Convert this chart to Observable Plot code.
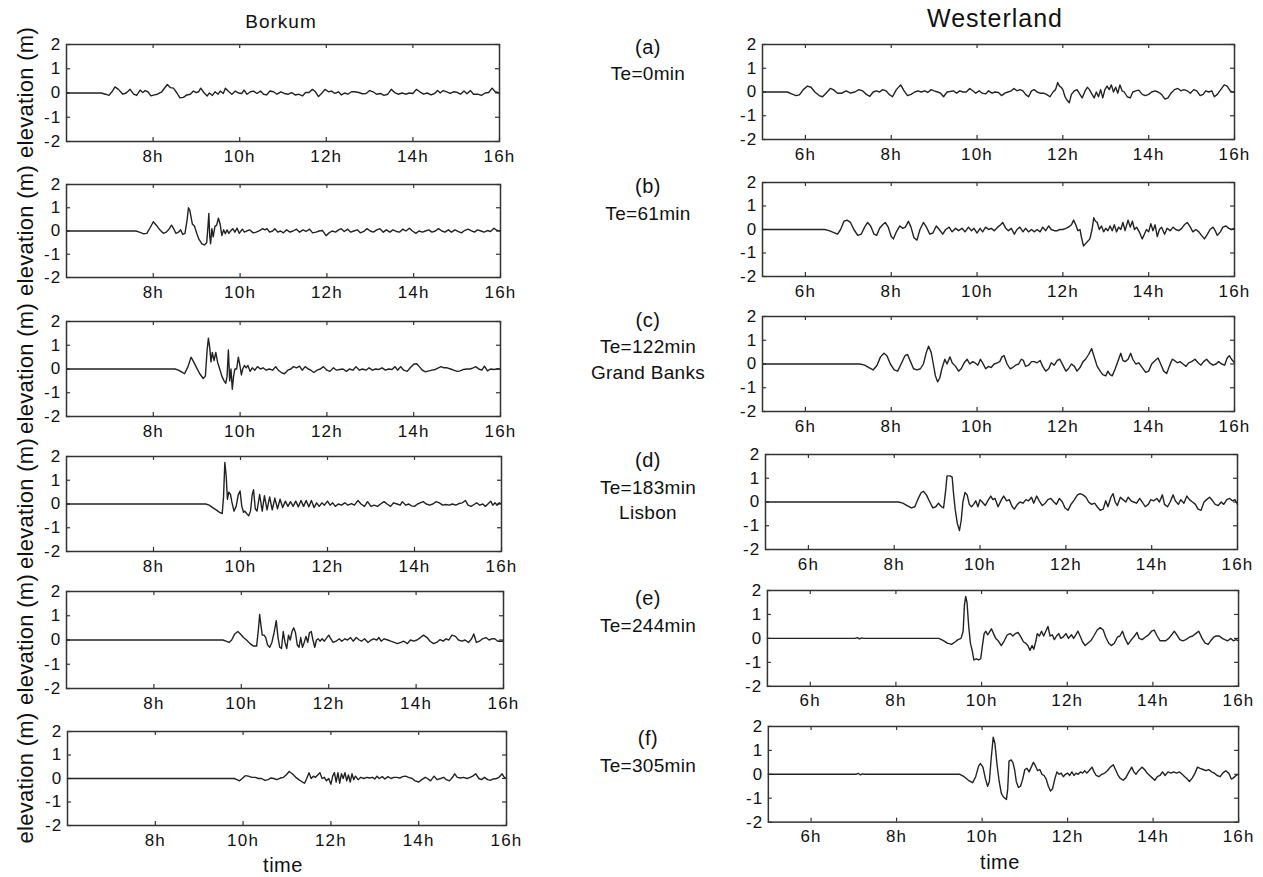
<!DOCTYPE html>
<html><head><meta charset="utf-8">
<script src="https://cdn.jsdelivr.net/npm/d3@7"></script>
<script src="https://cdn.jsdelivr.net/npm/@observablehq/plot@0.6"></script>
<style>
html,body{margin:0;padding:0;background:#fff;}
#fig{position:relative;width:1263px;height:877px;overflow:hidden;font-family:"Liberation Sans",Arial,sans-serif;}
.panel{position:absolute;}
.panel svg text{letter-spacing:1.2px;}
#overlay{position:absolute;left:0;top:0;}
</style></head><body><div id="fig"></div><script>
// ---------- data ----------
const yTicks = [-2, -1, 0, 1, 2];
const borkumTicks = [8, 10, 12, 14, 16];
const westerTicks = [6, 8, 10, 12, 14, 16];
const borkumDomain = [6, 16];
const westerDomain = [5, 16];
const stationNames = ["Borkum", "Westerland"];
const caseLetters = ["(a)", "(b)", "(c)", "(d)", "(e)", "(f)"];
const caseTe = ["Te=0min", "Te=61min", "Te=122min", "Te=183min", "Te=244min", "Te=305min"];
const caseEvent = ["", "", "Grand Banks", "Lisbon", "", ""];
const yLabel = "elevation (m)";
const xLabel = "time";

const borkumA = [[6,0],[6.8,0],[6.9,-0.05],[6.98,-0.1],[7.05,0.05],[7.12,0.25],[7.2,0.15],[7.3,-0.05],[7.38,0],[7.47,0.15],[7.55,-0.05],[7.62,-0.1],[7.7,0.12],[7.76,0.02],[7.82,0.1],[7.88,0.05],[7.95,-0.12],[8.03,-0.08],[8.1,-0.05],[8.2,0.05],[8.33,0.35],[8.4,0.22],[8.47,0.2],[8.55,0],[8.62,-0.2],[8.7,-0.18],[8.78,-0.08],[8.86,-0.05],[8.93,0.08],[9.0,0.02],[9.05,0.05],[9.1,0.2],[9.18,0.0],[9.25,-0.12],[9.3,0.0],[9.37,-0.1],[9.43,0.05],[9.5,-0.05],[9.55,0.08],[9.62,-0.02],[9.67,0.2],[9.75,0.05],[9.82,-0.05],[9.9,0.08],[9.97,0.0],[10.05,-0.02],[10.1,0.12],[10.17,-0.05],[10.25,0.05],[10.32,0.08],[10.4,-0.02],[10.48,0.08],[10.55,-0.05],[10.62,-0.08],[10.7,0.08],[10.78,0.05],[10.86,-0.05],[10.95,0.05],[11.03,-0.02],[11.12,-0.05],[11.2,0.02],[11.28,-0.08],[11.36,-0.05],[11.45,-0.12],[11.52,0.02],[11.6,0.02],[11.68,0.15],[11.75,0.05],[11.82,-0.15],[11.9,0.0],[11.97,0.15],[12.05,0.05],[12.12,0.08],[12.2,-0.02],[12.28,0.05],[12.35,-0.08],[12.42,0.0],[12.5,-0.05],[12.58,0.05],[12.66,0.05],[12.75,0.02],[12.83,-0.03],[12.92,-0.02],[13.0,0.1],[13.08,0.05],[13.16,-0.05],[13.25,-0.02],[13.33,-0.1],[13.42,-0.05],[13.5,0.15],[13.58,0.02],[13.66,-0.05],[13.75,0.0],[13.83,-0.05],[13.92,0.0],[14.0,-0.02],[14.08,0.15],[14.16,0.05],[14.25,-0.05],[14.33,0.0],[14.42,-0.08],[14.5,-0.02],[14.57,0.1],[14.63,0.0],[14.7,0.1],[14.78,0.05],[14.86,-0.02],[14.94,0.05],[15.02,0.03],[15.1,-0.05],[15.18,0.08],[15.25,-0.03],[15.33,0.1],[15.4,-0.05],[15.5,-0.05],[15.58,-0.1],[15.67,0.0],[15.75,0.02],[15.83,0.2],[15.9,0.05],[16,0]];

const borkumB = [[6,0],[7.6,0],[7.68,-0.05],[7.78,-0.12],[7.85,-0.1],[7.93,0.15],[8.0,0.4],[8.07,0.25],[8.15,0.05],[8.23,-0.1],[8.3,-0.05],[8.37,0.1],[8.42,0.25],[8.47,0.1],[8.52,-0.1],[8.58,-0.05],[8.63,0.05],[8.68,-0.15],[8.73,-0.1],[8.78,0.5],[8.81,1.0],[8.84,0.9],[8.87,0.6],[8.9,0.3],[8.95,0.2],[9.0,-0.1],[9.05,-0.35],[9.12,-0.55],[9.18,-0.6],[9.23,-0.5],[9.26,0.2],[9.28,0.75],[9.3,-0.2],[9.32,-0.55],[9.35,0.1],[9.38,-0.25],[9.42,0.2],[9.46,0.25],[9.5,0.55],[9.54,0.3],[9.58,-0.2],[9.62,0.05],[9.66,-0.12],[9.7,0.05],[9.74,-0.1],[9.78,0.0],[9.83,0.1],[9.88,-0.05],[9.93,0.12],[9.98,-0.1],[10.05,0.08],[10.1,-0.05],[10.15,0.0],[10.22,0.05],[10.3,-0.08],[10.37,-0.05],[10.45,0.02],[10.52,0.1],[10.57,0.05],[10.62,0.1],[10.68,-0.05],[10.75,0.0],[10.8,0.1],[10.87,-0.05],[10.93,0.0],[11.0,-0.08],[11.07,0.05],[11.15,-0.05],[11.22,0.0],[11.3,0.08],[11.37,-0.05],[11.45,0.05],[11.52,-0.02],[11.6,0.08],[11.67,-0.08],[11.75,-0.05],[11.82,0.0],[11.9,0.02],[11.98,-0.2],[12.05,-0.08],[12.12,0.0],[12.2,-0.05],[12.27,0.05],[12.33,0.1],[12.4,-0.02],[12.48,0.08],[12.55,-0.05],[12.62,0.0],[12.7,0.05],[12.77,-0.08],[12.85,-0.02],[12.92,0.1],[13.0,0.0],[13.07,-0.05],[13.15,0.05],[13.22,0.1],[13.3,-0.05],[13.37,0.05],[13.45,-0.05],[13.52,0.05],[13.6,-0.02],[13.67,-0.05],[13.75,0.08],[13.82,0.0],[13.9,0.12],[13.97,0.0],[14.05,-0.1],[14.12,0.0],[14.2,-0.05],[14.27,0.0],[14.35,0.05],[14.42,-0.05],[14.5,0.0],[14.57,0.1],[14.65,0.0],[14.72,-0.05],[14.8,0.05],[14.87,-0.05],[14.95,0.05],[15.02,-0.02],[15.1,-0.08],[15.17,0.02],[15.25,0.08],[15.32,0.02],[15.4,-0.05],[15.47,0.05],[15.55,0.0],[15.62,-0.05],[15.7,0.02],[15.77,-0.02],[15.85,0.12],[15.92,0.02],[16,0]];

const borkumC = [[6,0],[8.5,0],[8.58,-0.05],[8.65,-0.12],[8.72,-0.2],[8.8,0.1],[8.87,0.5],[8.93,0.3],[9.0,0.05],[9.07,-0.2],[9.15,-0.4],[9.2,-0.3],[9.24,0.8],[9.27,1.3],[9.3,0.9],[9.33,0.3],[9.36,0.7],[9.4,0.35],[9.44,0.7],[9.48,0.3],[9.53,0.0],[9.58,-0.3],[9.63,-0.5],[9.67,-0.6],[9.7,-0.3],[9.73,0.8],[9.76,-0.5],[9.79,0.0],[9.82,-0.85],[9.85,-0.3],[9.88,0.0],[9.92,0.0],[9.96,0.5],[10.0,0.1],[10.03,-0.25],[10.06,0.0],[10.1,0.15],[10.14,0.05],[10.18,0.15],[10.23,-0.1],[10.28,0.05],[10.34,-0.05],[10.4,0.1],[10.47,0.0],[10.53,0.05],[10.6,-0.05],[10.67,0.0],[10.75,-0.05],[10.82,0.1],[10.88,-0.05],[10.95,-0.15],[11.02,-0.2],[11.1,-0.05],[11.17,0.0],[11.23,0.1],[11.3,0.05],[11.37,0.12],[11.43,-0.05],[11.5,0.1],[11.57,0.0],[11.63,-0.05],[11.7,-0.15],[11.77,-0.05],[11.85,0.0],[11.92,0.1],[12.0,-0.05],[12.07,-0.1],[12.15,0.05],[12.22,-0.05],[12.3,-0.02],[12.37,0.0],[12.45,-0.1],[12.52,0.0],[12.6,-0.05],[12.67,0.1],[12.75,-0.05],[12.82,0.0],[12.9,-0.05],[12.97,0.05],[13.05,-0.05],[13.12,0.0],[13.2,-0.02],[13.27,0.05],[13.35,-0.05],[13.42,0.0],[13.5,-0.02],[13.57,0.1],[13.63,-0.05],[13.7,0.1],[13.77,-0.05],[13.85,-0.1],[13.92,0.05],[14.0,0.2],[14.07,0.22],[14.13,0.1],[14.2,-0.05],[14.27,-0.12],[14.35,-0.08],[14.42,-0.05],[14.5,-0.02],[14.57,0.05],[14.63,0.1],[14.7,0.05],[14.77,0.05],[14.85,0.0],[14.92,-0.05],[15.0,-0.1],[15.07,-0.08],[15.15,-0.02],[15.22,0.0],[15.3,0.0],[15.37,0.05],[15.43,0.1],[15.5,0.0],[15.57,-0.05],[15.63,0.12],[15.7,-0.08],[15.77,0.0],[15.85,-0.02],[15.92,0.0],[16,0]];

const borkumD = [[6,0],[9.2,0],[9.28,-0.05],[9.36,-0.15],[9.44,-0.25],[9.52,-0.35],[9.58,-0.4],[9.61,0.3],[9.64,1.75],[9.67,1.2],[9.7,0.2],[9.73,0.5],[9.77,0.4],[9.8,0.1],[9.85,-0.3],[9.9,-0.1],[9.95,0.4],[9.99,0.55],[10.03,-0.1],[10.07,-0.35],[10.1,-0.3],[10.14,-0.4],[10.19,-0.5],[10.23,-0.3],[10.27,0.4],[10.3,0.6],[10.34,-0.2],[10.38,-0.3],[10.44,0.4],[10.5,-0.3],[10.55,0.35],[10.61,-0.25],[10.67,0.3],[10.73,-0.25],[10.79,0.25],[10.85,-0.2],[10.91,0.2],[10.97,-0.15],[11.03,0.12],[11.09,-0.1],[11.15,0.1],[11.21,-0.1],[11.27,0.12],[11.33,-0.12],[11.39,0.15],[11.45,-0.1],[11.51,0.15],[11.57,-0.12],[11.63,0.15],[11.69,-0.15],[11.75,0.05],[11.81,-0.1],[11.87,0.05],[11.93,-0.05],[12.0,0.12],[12.06,-0.05],[12.12,0.05],[12.18,-0.1],[12.25,0.0],[12.32,-0.05],[12.4,0.05],[12.47,-0.05],[12.55,0.02],[12.62,-0.05],[12.7,0.15],[12.77,0.0],[12.85,-0.1],[12.92,0.1],[13.0,-0.1],[13.07,-0.05],[13.15,-0.1],[13.22,0.0],[13.3,0.1],[13.37,0.0],[13.45,-0.1],[13.52,0.05],[13.6,0.0],[13.67,-0.05],[13.72,0.1],[13.8,-0.05],[13.87,0.0],[13.93,-0.08],[14.0,-0.1],[14.07,0.0],[14.13,0.05],[14.2,0.1],[14.27,0.0],[14.35,-0.05],[14.42,0.0],[14.5,0.1],[14.57,0.05],[14.65,-0.05],[14.72,-0.02],[14.8,-0.05],[14.87,0.0],[14.95,-0.05],[15.02,0.02],[15.1,0.05],[15.17,0.15],[15.23,-0.05],[15.3,-0.1],[15.37,-0.02],[15.43,0.05],[15.5,-0.05],[15.57,0.0],[15.63,-0.1],[15.7,0.02],[15.75,0.12],[15.8,-0.05],[15.85,0.05],[15.9,-0.05],[15.95,0.05],[16,0]];

const borkumE = [[6,0],[9.58,0],[9.65,-0.05],[9.72,-0.1],[9.78,0.0],[9.85,0.25],[9.92,0.35],[9.98,0.25],[10.05,0.1],[10.12,0.0],[10.2,-0.15],[10.28,-0.25],[10.35,-0.25],[10.39,0.4],[10.42,1.05],[10.45,0.6],[10.48,0.2],[10.52,0.2],[10.56,0.1],[10.6,-0.2],[10.65,-0.3],[10.7,-0.1],[10.75,0.3],[10.8,0.8],[10.84,0.1],[10.88,-0.3],[10.92,-0.35],[10.96,0.35],[11.0,-0.1],[11.04,-0.35],[11.08,0.2],[11.12,0.0],[11.16,0.35],[11.2,0.5],[11.24,0.3],[11.28,-0.2],[11.32,-0.3],[11.36,0.1],[11.4,-0.3],[11.44,-0.1],[11.48,0.15],[11.52,-0.1],[11.56,0.3],[11.6,0.35],[11.64,0.0],[11.68,-0.3],[11.72,0.0],[11.76,0.05],[11.8,-0.05],[11.85,0.05],[11.9,-0.05],[11.95,0.08],[12.0,0.2],[12.05,0.05],[12.1,-0.1],[12.17,-0.05],[12.24,0.05],[12.3,-0.05],[12.37,0.05],[12.43,0.0],[12.5,0.1],[12.56,-0.05],[12.63,0.1],[12.7,0.0],[12.75,-0.05],[12.82,0.05],[12.9,-0.1],[12.97,0.0],[13.03,0.05],[13.1,0.0],[13.15,0.1],[13.2,-0.05],[13.27,0.05],[13.35,0.0],[13.42,-0.05],[13.5,-0.1],[13.57,-0.15],[13.65,-0.1],[13.72,-0.05],[13.8,-0.15],[13.87,0.0],[13.95,-0.05],[14.02,0.0],[14.1,0.1],[14.17,0.2],[14.25,0.1],[14.32,-0.05],[14.4,-0.15],[14.47,-0.1],[14.55,0.02],[14.62,-0.05],[14.68,0.05],[14.75,0.0],[14.82,0.2],[14.9,0.15],[14.97,0.0],[15.05,-0.05],[15.12,0.0],[15.2,-0.1],[15.27,0.05],[15.32,0.25],[15.38,-0.1],[15.45,-0.05],[15.52,0.05],[15.6,0.1],[15.67,0.0],[15.73,0.05],[15.8,0.05],[15.87,-0.05],[15.93,-0.05],[16,-0.05]];

const borkumF = [[6,0],[9.8,0],[9.86,-0.05],[9.92,-0.1],[9.98,0.0],[10.05,0.12],[10.12,0.1],[10.2,0.05],[10.28,0.05],[10.35,0.0],[10.42,0.0],[10.5,-0.08],[10.57,-0.05],[10.63,0.02],[10.7,0.0],[10.77,-0.05],[10.85,0.02],[10.92,0.05],[10.98,0.15],[11.05,0.3],[11.12,0.2],[11.2,0.05],[11.27,-0.05],[11.35,-0.15],[11.4,-0.2],[11.45,0.0],[11.5,0.25],[11.55,0.0],[11.6,0.1],[11.65,0.05],[11.7,0.15],[11.75,0.25],[11.8,0.0],[11.85,0.05],[11.9,-0.1],[11.95,0.0],[12.0,-0.25],[12.04,0.1],[12.08,0.25],[12.12,-0.15],[12.16,0.25],[12.2,-0.2],[12.24,0.2],[12.28,0.0],[12.32,0.25],[12.36,-0.1],[12.4,0.15],[12.44,-0.15],[12.48,0.2],[12.52,-0.05],[12.56,0.1],[12.62,-0.05],[12.68,0.05],[12.75,0.0],[12.82,0.05],[12.88,0.02],[12.95,0.05],[13.0,-0.02],[13.05,0.1],[13.1,0.0],[13.17,0.08],[13.23,-0.02],[13.3,0.08],[13.37,0.0],[13.43,0.05],[13.5,0.05],[13.57,0.02],[13.63,0.08],[13.7,0.1],[13.77,0.05],[13.85,0.0],[13.92,-0.1],[14.0,-0.15],[14.07,-0.05],[14.15,0.05],[14.2,0.0],[14.27,-0.1],[14.35,0.1],[14.42,-0.05],[14.5,0.0],[14.57,0.05],[14.63,-0.05],[14.7,-0.1],[14.77,0.05],[14.82,0.2],[14.88,0.05],[14.95,0.02],[15.02,0.05],[15.1,0.0],[15.17,0.05],[15.23,0.1],[15.3,0.2],[15.37,0.0],[15.43,-0.05],[15.5,0.05],[15.57,-0.05],[15.63,-0.08],[15.7,-0.02],[15.77,0.0],[15.83,0.05],[15.9,0.2],[15.95,0.05],[16,0.0]];

const westerA = [[5,0],[5.58,0],[5.68,-0.08],[5.78,-0.15],[5.86,-0.12],[5.95,0.1],[6.05,0.25],[6.13,0.2],[6.22,0.0],[6.32,-0.15],[6.4,-0.2],[6.48,-0.05],[6.58,0.15],[6.65,0.1],[6.75,-0.05],[6.85,-0.05],[6.95,0.05],[7.05,-0.05],[7.15,0.0],[7.25,0.1],[7.33,0.05],[7.42,-0.1],[7.5,-0.18],[7.58,0.0],[7.65,0.05],[7.73,0.0],[7.8,0.1],[7.88,0.05],[7.95,-0.1],[8.03,-0.2],[8.12,0.1],[8.22,0.3],[8.3,0.05],[8.38,-0.15],[8.46,-0.1],[8.55,0.0],[8.62,0.05],[8.7,0.0],[8.78,0.05],[8.85,-0.02],[8.93,0.1],[9.0,0.05],[9.08,0.0],[9.15,-0.05],[9.22,-0.2],[9.3,0.0],[9.37,0.02],[9.45,0.05],[9.52,-0.05],[9.6,0.05],[9.67,0.0],[9.75,0.0],[9.83,0.15],[9.9,0.05],[9.97,-0.05],[10.05,0.05],[10.12,-0.05],[10.2,-0.08],[10.27,0.05],[10.35,-0.05],[10.42,0.0],[10.5,-0.02],[10.57,-0.15],[10.65,-0.05],[10.72,0.0],[10.8,0.05],[10.86,0.15],[10.93,0.05],[11.0,0.1],[11.07,0.05],[11.13,-0.1],[11.2,-0.2],[11.27,0.05],[11.33,0.1],[11.4,0.0],[11.47,-0.05],[11.55,-0.05],[11.62,-0.1],[11.7,-0.2],[11.77,0.0],[11.83,0.1],[11.88,0.4],[11.92,0.25],[11.96,0.2],[12.0,0.1],[12.05,-0.2],[12.1,-0.35],[12.15,-0.45],[12.2,-0.1],[12.27,0.05],[12.33,0.1],[12.38,-0.05],[12.45,-0.25],[12.52,0.05],[12.57,0.2],[12.62,0.1],[12.68,-0.1],[12.73,-0.25],[12.78,0.0],[12.83,-0.2],[12.88,0.1],[12.93,-0.25],[12.98,0.1],[13.03,0.25],[13.08,0.1],[13.13,0.3],[13.18,0.0],[13.23,0.2],[13.28,-0.05],[13.33,0.3],[13.38,0.05],[13.43,0.0],[13.5,-0.2],[13.57,-0.25],[13.63,0.0],[13.7,0.05],[13.77,0.08],[13.85,-0.1],[13.92,-0.15],[14.0,-0.1],[14.07,0.0],[14.15,0.05],[14.22,0.0],[14.3,-0.1],[14.38,-0.3],[14.45,-0.25],[14.52,-0.05],[14.6,0.1],[14.68,0.15],[14.75,0.05],[14.82,0.1],[14.9,0.05],[14.97,-0.05],[15.05,0.1],[15.12,0.05],[15.2,-0.15],[15.27,-0.1],[15.33,0.05],[15.4,0.0],[15.47,0.05],[15.53,-0.2],[15.6,-0.1],[15.68,0.1],[15.76,0.3],[15.83,0.25],[15.9,0.05],[15.95,0.0],[16,0.0]];

const westerB = [[5,0],[6.45,0],[6.55,-0.05],[6.65,-0.12],[6.75,-0.2],[6.82,0.0],[6.9,0.35],[6.97,0.4],[7.05,0.3],[7.13,0.0],[7.22,-0.25],[7.3,-0.2],[7.38,0.1],[7.45,0.3],[7.52,0.15],[7.6,-0.2],[7.66,-0.25],[7.73,0.05],[7.8,0.2],[7.86,0.3],[7.93,0.1],[8.0,-0.3],[8.05,-0.4],[8.12,-0.1],[8.2,0.15],[8.27,0.05],[8.33,0.1],[8.4,0.35],[8.46,0.1],[8.53,-0.35],[8.6,-0.45],[8.67,0.0],[8.75,0.3],[8.82,0.1],[8.9,-0.2],[8.97,-0.15],[9.05,0.15],[9.12,0.0],[9.2,-0.2],[9.27,0.0],[9.35,0.1],[9.42,-0.1],[9.5,0.05],[9.57,-0.05],[9.65,0.05],[9.72,-0.1],[9.8,0.1],[9.87,-0.05],[9.93,0.05],[10.0,-0.15],[10.07,0.05],[10.13,-0.1],[10.2,0.1],[10.27,0.0],[10.33,0.05],[10.4,-0.05],[10.48,0.1],[10.55,0.2],[10.6,0.3],[10.67,0.05],[10.73,-0.05],[10.8,0.05],[10.87,-0.2],[10.93,0.0],[11.0,0.1],[11.07,-0.1],[11.13,0.05],[11.2,-0.1],[11.27,0.0],[11.33,-0.1],[11.4,0.0],[11.47,-0.1],[11.53,0.1],[11.6,-0.05],[11.67,0.15],[11.73,0.0],[11.8,-0.05],[11.87,-0.05],[11.93,0.0],[12.0,0.0],[12.07,0.05],[12.13,0.1],[12.2,0.2],[12.25,0.4],[12.3,0.2],[12.35,-0.05],[12.4,0.0],[12.43,-0.3],[12.48,-0.7],[12.53,-0.6],[12.58,-0.5],[12.63,-0.4],[12.68,0.0],[12.72,0.5],[12.76,0.35],[12.8,0.3],[12.85,0.0],[12.9,0.15],[12.95,-0.1],[13.0,0.05],[13.05,-0.05],[13.1,0.15],[13.15,-0.05],[13.2,0.2],[13.25,-0.1],[13.3,0.1],[13.35,0.0],[13.4,0.3],[13.45,-0.05],[13.52,0.4],[13.57,0.1],[13.62,0.35],[13.67,0.0],[13.72,0.1],[13.78,-0.1],[13.85,-0.4],[13.9,-0.2],[13.95,0.0],[14.0,-0.1],[14.05,0.25],[14.1,-0.05],[14.15,0.2],[14.2,-0.3],[14.25,0.0],[14.3,0.1],[14.37,-0.2],[14.43,0.05],[14.5,-0.05],[14.57,0.1],[14.63,0.0],[14.7,-0.05],[14.77,0.05],[14.83,0.2],[14.9,0.3],[14.97,0.1],[15.03,-0.1],[15.1,0.0],[15.17,-0.1],[15.23,-0.25],[15.3,-0.4],[15.37,-0.2],[15.43,0.0],[15.5,0.1],[15.55,-0.05],[15.6,-0.25],[15.67,-0.1],[15.73,0.1],[15.8,0.15],[15.87,0.05],[15.93,0.0],[16,0.05]];

const westerC = [[5,0],[7.27,0],[7.38,-0.05],[7.48,-0.15],[7.58,-0.25],[7.67,-0.05],[7.75,0.3],[7.83,0.45],[7.9,0.35],[7.98,0.0],[8.07,-0.25],[8.15,-0.3],[8.23,0.0],[8.32,0.35],[8.38,0.4],[8.45,0.1],[8.52,-0.2],[8.6,-0.25],[8.68,-0.2],[8.75,0.0],[8.82,0.5],[8.87,0.75],[8.93,0.5],[8.98,0.0],[9.03,-0.5],[9.08,-0.75],[9.13,-0.6],[9.18,-0.2],[9.25,0.2],[9.3,0.0],[9.37,0.3],[9.42,0.05],[9.5,-0.1],[9.57,-0.3],[9.63,-0.2],[9.7,0.05],[9.77,0.2],[9.83,0.0],[9.9,0.1],[9.95,0.05],[10.02,-0.05],[10.08,0.2],[10.13,0.05],[10.2,-0.2],[10.27,-0.1],[10.33,-0.15],[10.4,0.0],[10.47,0.05],[10.53,0.1],[10.58,0.3],[10.63,0.35],[10.7,0.0],[10.77,-0.2],[10.83,-0.15],[10.9,-0.05],[10.97,0.0],[11.03,0.2],[11.08,0.15],[11.13,-0.1],[11.2,-0.05],[11.27,0.1],[11.33,0.1],[11.4,0.05],[11.47,0.15],[11.53,-0.1],[11.6,-0.3],[11.67,-0.2],[11.73,0.05],[11.8,-0.05],[11.87,0.15],[11.93,0.2],[12.0,-0.05],[12.07,-0.3],[12.13,-0.2],[12.2,0.0],[12.27,-0.1],[12.33,-0.3],[12.4,-0.15],[12.47,0.1],[12.53,0.2],[12.6,0.4],[12.67,0.65],[12.73,0.3],[12.8,-0.1],[12.87,-0.3],[12.93,-0.45],[13.0,-0.5],[13.05,-0.3],[13.1,-0.45],[13.15,-0.5],[13.22,-0.2],[13.3,0.2],[13.35,0.45],[13.4,0.15],[13.45,0.1],[13.52,0.2],[13.58,0.45],[13.63,0.2],[13.7,0.0],[13.77,0.05],[13.85,-0.15],[13.93,-0.35],[14.0,-0.3],[14.07,0.0],[14.15,0.15],[14.22,0.25],[14.28,0.0],[14.35,-0.3],[14.42,-0.4],[14.48,-0.1],[14.55,0.2],[14.6,0.15],[14.67,0.05],[14.73,0.1],[14.8,0.0],[14.87,-0.1],[14.93,0.05],[15.0,0.1],[15.08,0.2],[15.15,0.05],[15.22,-0.05],[15.28,0.1],[15.35,0.2],[15.42,0.05],[15.5,-0.05],[15.57,0.0],[15.63,0.1],[15.7,0.0],[15.77,-0.05],[15.83,0.25],[15.88,0.35],[15.93,0.2],[16,0.05]];

const westerD = [[5,0],[8.1,0],[8.2,-0.05],[8.3,-0.15],[8.4,-0.25],[8.48,-0.2],[8.56,0.15],[8.63,0.4],[8.68,0.45],[8.75,0.3],[8.83,0.0],[8.9,-0.25],[8.97,-0.2],[9.03,-0.05],[9.1,-0.2],[9.15,-0.25],[9.2,0.5],[9.23,1.1],[9.3,1.1],[9.35,1.05],[9.38,0.4],[9.42,-0.3],[9.47,-0.9],[9.52,-1.2],[9.56,-0.8],[9.6,0.0],[9.65,0.4],[9.7,0.3],[9.75,-0.1],[9.8,-0.2],[9.85,-0.1],[9.9,0.05],[9.95,-0.2],[10.0,0.1],[10.05,0.0],[10.12,-0.15],[10.18,0.05],[10.25,0.25],[10.3,0.1],[10.35,0.15],[10.42,-0.2],[10.5,0.1],[10.55,0.25],[10.62,0.05],[10.68,0.1],[10.75,-0.2],[10.8,-0.3],[10.87,-0.1],[10.93,0.0],[11.0,-0.05],[11.07,0.1],[11.13,0.05],[11.2,0.2],[11.25,-0.05],[11.32,0.25],[11.38,0.05],[11.45,-0.15],[11.52,-0.05],[11.58,0.1],[11.65,0.15],[11.72,0.0],[11.78,-0.1],[11.85,0.15],[11.92,0.0],[11.98,-0.25],[12.05,-0.35],[12.12,-0.1],[12.2,0.1],[12.27,0.3],[12.33,0.35],[12.4,0.3],[12.47,0.2],[12.53,0.0],[12.6,-0.1],[12.67,-0.05],[12.73,-0.2],[12.8,-0.35],[12.87,-0.3],[12.93,0.05],[12.98,-0.2],[13.05,0.2],[13.1,0.35],[13.15,0.0],[13.2,-0.15],[13.27,0.2],[13.33,0.1],[13.4,0.0],[13.45,0.2],[13.52,0.05],[13.58,0.0],[13.65,-0.05],[13.72,0.15],[13.78,0.0],[13.85,-0.2],[13.92,-0.1],[13.98,0.1],[14.05,0.05],[14.12,0.15],[14.18,0.0],[14.25,0.3],[14.3,-0.1],[14.37,-0.2],[14.43,0.0],[14.5,0.3],[14.55,0.05],[14.62,-0.1],[14.68,0.1],[14.75,-0.05],[14.82,0.25],[14.88,0.1],[14.95,0.0],[15.02,-0.1],[15.08,-0.3],[15.15,-0.35],[15.22,0.0],[15.28,0.1],[15.35,0.2],[15.42,0.05],[15.48,-0.1],[15.55,-0.15],[15.62,0.0],[15.68,-0.1],[15.75,0.1],[15.82,0.15],[15.88,0.05],[15.94,0.1],[16,-0.1]];

const westerE = [[5,0],[7.05,0],[7.1,0.03],[7.15,-0.02],[7.2,0.02],[7.25,0],[9.0,0],[9.1,-0.08],[9.2,-0.2],[9.3,-0.25],[9.38,-0.15],[9.45,-0.05],[9.52,0.0],[9.57,0.3],[9.6,1.4],[9.63,1.75],[9.66,1.5],[9.7,0.5],[9.74,-0.2],[9.78,-0.5],[9.82,-0.9],[9.88,-0.85],[9.93,-0.9],[9.98,-0.85],[10.02,-0.3],[10.06,0.2],[10.1,0.3],[10.14,0.15],[10.18,0.25],[10.23,0.4],[10.28,0.2],[10.33,0.0],[10.39,-0.1],[10.46,-0.3],[10.53,-0.1],[10.6,0.15],[10.67,0.2],[10.73,0.1],[10.79,0.2],[10.85,0.25],[10.92,0.05],[10.98,-0.15],[11.03,-0.2],[11.08,-0.3],[11.13,-0.5],[11.18,-0.3],[11.22,-0.45],[11.27,-0.1],[11.3,0.2],[11.35,0.1],[11.4,0.3],[11.45,0.1],[11.5,0.3],[11.55,0.5],[11.6,0.1],[11.65,0.15],[11.7,-0.05],[11.75,0.1],[11.8,0.2],[11.85,0.0],[11.9,0.05],[11.97,0.2],[12.03,0.0],[12.1,0.15],[12.15,0.0],[12.2,0.15],[12.25,0.3],[12.3,0.1],[12.36,-0.15],[12.42,-0.3],[12.48,-0.2],[12.55,-0.1],[12.62,0.1],[12.7,0.35],[12.77,0.45],[12.84,0.35],[12.9,0.05],[12.97,-0.2],[13.03,-0.3],[13.1,-0.2],[13.17,0.05],[13.23,0.1],[13.29,0.3],[13.35,0.0],[13.42,-0.25],[13.5,-0.05],[13.57,0.1],[13.63,0.25],[13.68,0.0],[13.75,-0.05],[13.82,0.05],[13.9,0.15],[13.97,0.3],[14.03,0.35],[14.1,0.1],[14.17,-0.1],[14.24,-0.1],[14.3,-0.1],[14.37,0.0],[14.44,0.15],[14.5,0.3],[14.56,0.15],[14.63,-0.05],[14.7,-0.1],[14.77,-0.05],[14.85,0.05],[14.93,0.1],[15.0,0.2],[15.07,0.3],[15.15,0.0],[15.22,-0.2],[15.29,-0.25],[15.35,-0.1],[15.42,0.05],[15.48,0.1],[15.55,0.1],[15.62,0.0],[15.68,-0.05],[15.75,-0.1],[15.82,0.0],[15.88,-0.1],[15.94,-0.05],[16,-0.1]];

const westerF = [[5,0],[7.05,0],[7.1,0.04],[7.15,-0.02],[7.2,0.02],[7.25,0],[9.48,0],[9.58,-0.1],[9.68,-0.25],[9.78,-0.35],[9.85,-0.1],[9.92,0.35],[9.96,0.45],[10.02,0.3],[10.08,-0.2],[10.13,-0.5],[10.17,-0.3],[10.21,0.6],[10.26,1.55],[10.3,1.3],[10.35,0.4],[10.4,-0.3],[10.45,-0.8],[10.5,-0.95],[10.57,-1.05],[10.6,-0.6],[10.63,0.55],[10.68,0.6],[10.72,0.5],[10.76,0.2],[10.8,-0.3],[10.85,-0.55],[10.9,-0.5],[10.95,-0.2],[11.0,0.2],[11.05,0.25],[11.1,0.1],[11.15,0.3],[11.2,0.5],[11.25,0.35],[11.3,0.15],[11.35,0.2],[11.4,0.0],[11.45,-0.05],[11.5,-0.2],[11.55,-0.5],[11.6,-0.7],[11.65,-0.6],[11.7,-0.2],[11.75,0.1],[11.8,0.0],[11.85,0.05],[11.9,-0.1],[11.95,0.0],[12.0,0.05],[12.05,-0.05],[12.1,0.1],[12.15,-0.05],[12.2,0.05],[12.25,0.0],[12.3,0.1],[12.35,0.05],[12.4,0.15],[12.45,0.05],[12.5,0.15],[12.57,0.3],[12.62,0.1],[12.67,-0.05],[12.73,-0.1],[12.8,0.0],[12.87,0.05],[12.93,0.15],[13.0,0.3],[13.07,0.4],[13.12,0.2],[13.17,0.0],[13.22,-0.15],[13.3,-0.25],[13.36,-0.15],[13.42,0.05],[13.5,0.3],[13.55,0.1],[13.6,0.0],[13.66,0.15],[13.74,0.3],[13.8,0.2],[13.86,0.05],[13.92,-0.05],[13.98,-0.15],[14.04,-0.25],[14.1,-0.1],[14.16,-0.05],[14.22,0.1],[14.28,-0.05],[14.35,0.1],[14.42,0.05],[14.48,0.1],[14.55,0.05],[14.62,0.1],[14.68,0.0],[14.74,-0.1],[14.8,-0.2],[14.85,-0.3],[14.92,-0.15],[14.98,0.05],[15.04,0.3],[15.1,0.25],[15.17,0.2],[15.24,0.15],[15.3,0.2],[15.37,0.1],[15.43,0.05],[15.5,-0.05],[15.57,-0.1],[15.63,0.05],[15.7,0.15],[15.77,0.05],[15.83,-0.2],[15.88,-0.15],[15.94,-0.05],[16,0.0]];

const borkumSeries = [borkumA, borkumB, borkumC, borkumD, borkumE, borkumF];
const westerSeries = [westerA, westerB, westerC, westerD, westerE, westerF];

// ---------- layout (frame boxes: left, right, top, bottom in px) ----------
const leftBoxes = [[66,499,44,141],[66,500,184,277],[66,500,321,416],[66,501,456,551],[66,503,591,688],[67,506,731,825]];
const rightBoxes = [[762,1234,44,139],[762,1234,182,276],[762,1234,316,411],[765,1237,454,549],[767,1239,590,686],[768,1240,726,822]];

const fig = document.getElementById("fig");
const FONT = '"Liberation Sans", Arial, Helvetica, sans-serif';

function drawPanel(series, domain, ticks, box) {
  const [L, R, T, B] = box;
  const mL = 45, mR = 25, mT = 6, mB = 32;
  const w = R - L, h = B - T;
  const tx = 4 * (domain[1] - domain[0]) / w;
  const ty = 4 * 4 / h;
  const chart = Plot.plot({
    width: w + mL + mR,
    height: h + mT + mB,
    marginLeft: mL, marginRight: mR, marginTop: mT, marginBottom: mB,
    style: {fontFamily: FONT, fontSize: "17px", background: "transparent", color: "#111", overflow: "visible"},
    x: {domain, ticks, tickSize: 0, tickPadding: 8, tickFormat: d => d + "h", label: null},
    y: {domain: [-2, 2], ticks: yTicks, tickSize: 0, tickPadding: 5, tickFormat: d => String(d), label: null},
    marks: [
      Plot.ruleX(ticks, {x: d => d, y1: -2, y2: -2 + ty, stroke: "#333", strokeWidth: 1.2}),
      Plot.ruleX(ticks, {x: d => d, y1: 2, y2: 2 - ty, stroke: "#333", strokeWidth: 1.2}),
      Plot.ruleY(yTicks, {y: d => d, x1: domain[0], x2: domain[0] + tx, stroke: "#333", strokeWidth: 1.2}),
      Plot.ruleY(yTicks, {y: d => d, x1: domain[1], x2: domain[1] - tx, stroke: "#333", strokeWidth: 1.2}),
      Plot.line(series, {x: d => d[0], y: d => d[1], stroke: "#222", strokeWidth: 1.4}),
      Plot.frame({stroke: "#333", strokeWidth: 1.5})
    ]
  });
  const div = document.createElement("div");
  div.className = "panel";
  div.style.left = (L - mL) + "px";
  div.style.top = (T - mT) + "px";
  div.appendChild(chart);
  fig.appendChild(div);
}

borkumSeries.forEach((s, i) => drawPanel(s, borkumDomain, borkumTicks, leftBoxes[i]));
westerSeries.forEach((s, i) => drawPanel(s, westerDomain, westerTicks, rightBoxes[i]));

// ---------- text overlay ----------
const svg = d3.select(fig).append("svg").attr("id", "overlay")
  .attr("width", 1263).attr("height", 877)
  .style("font-family", FONT).style("pointer-events", "none");

function txt(s, x, y, size, opts = {}) {
  const t = svg.append("text").attr("x", x).attr("y", y)
    .attr("text-anchor", "middle").attr("font-size", size)
    .attr("fill", "#111").style("letter-spacing", (opts.ls ?? 1) + "px").text(s);
  if (opts.rotate) t.attr("transform", `rotate(-90 ${x} ${y})`);
  return t;
}

txt(stationNames[0], 281, 28, 19);
txt(stationNames[1], 995, 27, 25);
txt(xLabel, 283, 872, 20, {ls: 0.5});
txt(xLabel, 1000, 869, 20, {ls: 0.5});

leftBoxes.forEach(b => {
  const cy = (b[2] + b[3]) / 2;
  txt(yLabel, 33, cy, 22, {rotate: true, ls: 0.3});
});

const midX = 648;
const midY = [[47, 73], [186, 213], [320, 346, 372], [460, 487, 512], [598, 625], [738, 765]];
caseLetters.forEach((c, i) => {
  const ys = midY[i];
  txt(c, midX, ys[0] + 7, 20, {ls: 0.5});
  txt(caseTe[i], midX, ys[1] + 7, 19, {ls: 0.3});
  if (caseEvent[i]) txt(caseEvent[i], midX, ys[2] + 7, 19, {ls: 0.3});
});
</script></body></html>
